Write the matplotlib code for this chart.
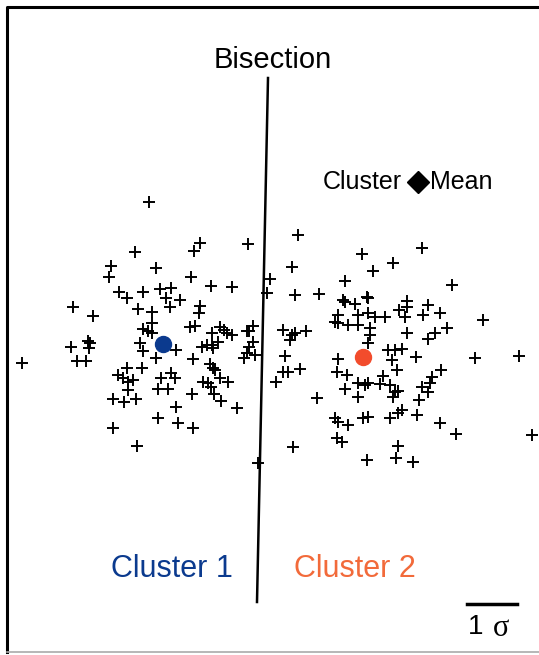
import matplotlib
matplotlib.use("Agg")
import matplotlib.pyplot as plt
import numpy as np

plt.rcParams['font.family'] = ['Liberation Sans', 'DejaVu Sans']

# point positions (image pixel units, y down)
cluster1_x = [149, 200, 194, 248, 135, 111, 156, 109, 191, 211, 232, 160, 171, 143, 119, 127,
              166, 180, 73, 93, 138, 152, 170, 200, 199, 152, 143, 148, 152, 190, 195, 212,
              220, 224, 227, 232, 247, 253, 249, 88, 90, 89, 71, 77, 86, 22, 140, 143, 176,
              156, 193, 202, 207, 212, 218, 213, 253, 249, 247, 255, 244, 127, 142, 118, 123,
              128, 133, 128, 161, 171, 175, 158, 168, 210, 213, 215, 203, 208, 211, 220, 228,
              214, 221, 192, 113, 124, 136, 176, 237, 158, 178, 193, 113, 137, 258]
cluster1_y = [202, 243, 251, 244, 252, 266, 268, 277, 277, 286, 287, 289, 288, 292, 292, 298,
              298, 300, 307, 316, 309, 312, 307, 306, 313, 323, 329, 331, 333, 327, 326, 333,
              327, 330, 333, 335, 331, 326, 331, 341, 343, 348, 347, 361, 361, 363, 343, 351, 350,
              358, 359, 347, 345, 345, 342, 348, 342, 347, 353, 355, 358, 368, 368, 375, 378,
              382, 380, 390, 378, 373, 378, 389, 389, 364, 368, 370, 382, 383, 387, 378, 382,
              394, 401, 394, 399, 402, 399, 407, 408, 418, 423, 428, 428, 446, 463]

cluster2_x = [270, 267, 298, 362, 422, 292, 393, 373, 345, 452, 295, 319, 343, 345, 355, 367,
              368, 407, 399, 407, 428, 440, 338, 358, 368, 375, 385, 405, 423, 483, 335, 338,
              348, 358, 283, 292, 295, 290, 306, 370, 370, 368, 407, 428, 435, 447, 285, 338,
              388, 395, 402, 392, 416, 475, 519, 283, 288, 300, 276, 337, 347, 397, 441, 432,
              430, 422, 428, 358, 365, 368, 380, 383, 390, 395, 398, 393, 345, 358, 317, 419,
              402, 398, 417, 390, 363, 368, 335, 338, 348, 440, 456, 532, 337, 342, 293, 398,
              396, 367, 413]
cluster2_y = [279, 293, 235, 254, 248, 267, 263, 271, 281, 285, 295, 294, 300, 302, 304, 297,
              298, 301, 310, 307, 305, 313, 315, 315, 313, 317, 317, 317, 315, 320, 322, 323,
              325, 325, 330, 335, 333, 340, 331, 328, 335, 343, 333, 339, 333, 328, 356, 359,
              350, 350, 349, 360, 357, 358, 356, 372, 372, 369, 382, 372, 375, 370, 370, 377,
              383, 387, 392, 383, 385, 383, 384, 376, 385, 392, 391, 397, 389, 397, 398, 400,
              410, 413, 415, 418, 418, 417, 418, 422, 425, 423, 434, 435, 438, 442, 447, 446,
              458, 460, 462]

mean_x = [163, 363]
mean_y = [344, 357]
mean_colors = ['#0b3a8e', '#f24c2c']

bisect_x = [268, 257]
bisect_y = [78, 602]

labels = ['Cluster 1', 'Cluster 2']
label_x = [172, 355]
label_colors = ['#0b3a8e', '#f26a3a']

fig = plt.figure(figsize=(5.39, 6.55), dpi=100)
ax = fig.add_axes([0, 0, 1, 1])
ax.set_xlim(0, 539)
ax.set_ylim(655, 0)
ax.axis('off')

# frame
ax.plot([7, 7, 539], [652, 7, 7], '-k', linewidth=2.2)
ax.plot([7, 539], [652, 652], '-', color='#aaaaaa', linewidth=1.2)

ax.plot(cluster1_x, cluster1_y, '+', color='k', markersize=8.5, markeredgewidth=1.4)
ax.plot(cluster2_x, cluster2_y, '+', color='k', markersize=8.5, markeredgewidth=1.4)

ax.plot(bisect_x, bisect_y, '-k', linewidth=1.8)

for i in range(2):
    ax.plot(mean_x[i], mean_y[i], 'o', color=mean_colors[i], markersize=11.5)
    ax.text(label_x[i], 569, labels[i], color=label_colors[i], fontsize=22,
            ha='center', va='center')

ax.text(273, 60, 'Bisection', fontsize=21, ha='center', va='center')

# legend-like caption
ax.text(402, 182, 'Cluster', fontsize=18, ha='right', va='center')
ax.plot(418, 182, 'D', color='k', markersize=11)
ax.text(430, 182, 'Mean', fontsize=18, ha='left', va='center')

# scale bar, 1 sigma
ax.plot([467, 517], [604, 604], '-k', linewidth=2.5)
ax.text(483, 627, '1', fontsize=20, ha='right', va='center')
ax.text(501, 628, 'σ', fontsize=22, ha='center', va='center', family='Liberation Serif')

fig.savefig('out.png', dpi=100)
